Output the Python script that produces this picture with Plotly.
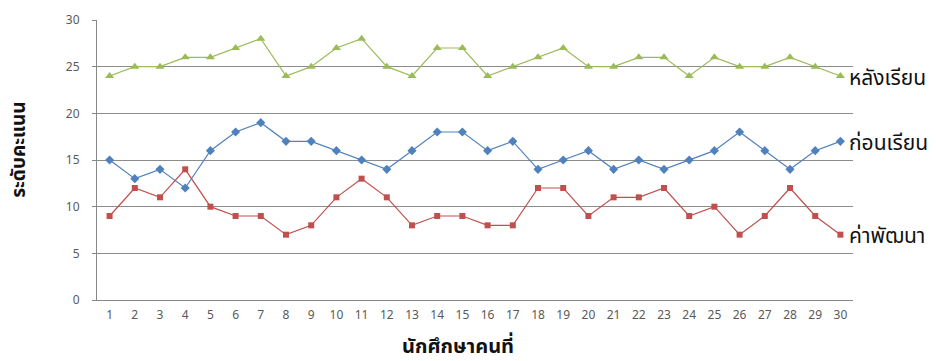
import plotly.graph_objects as go

students = list(range(1, 31))
after = [24, 25, 25, 26, 26, 27, 28, 24, 25, 27, 28, 25, 24, 27, 27, 24, 25, 26, 27, 25,
         25, 26, 26, 24, 26, 25, 25, 26, 25, 24]
before = [15, 13, 14, 12, 16, 18, 19, 17, 17, 16, 15, 14, 16, 18, 18, 16, 17, 14, 15, 16,
          14, 15, 14, 15, 16, 18, 16, 14, 16, 17]
gain = [9, 12, 11, 14, 10, 9, 9, 7, 8, 11, 13, 11, 8, 9, 9, 8, 8, 12, 12, 9,
        11, 11, 12, 9, 10, 7, 9, 12, 9, 7]
series_names = ["หลังเรียน", "ก่อนเรียน", "ค่าพัฒนา"]
y_ticks = [0, 5, 10, 15, 20, 25, 30]
x_title = "นักศึกษาคนที่"
y_title = "ระดับคะแนน"

thai = "Tahoma, Noto Sans Thai, sans-serif"
fig = go.Figure()
specs = [
    (after, series_names[0], "#9BBB59", "triangle-up", 8),
    (before, series_names[1], "#4F81BD", "diamond", 7),
    (gain, series_names[2], "#C0504D", "square", 6),
]
for vals, name, color, sym, size in specs:
    fig.add_trace(go.Scatter(
        x=students, y=vals, name=name, mode="lines+markers",
        line=dict(color=color, width=1.2),
        marker=dict(symbol=sym, size=size, color=color),
        showlegend=False,
    ))
    fig.add_annotation(
        x=students[-1], y=vals[-1], text=name, showarrow=False,
        xanchor="left", yanchor="middle", xshift=7, yshift=-2,
        font=dict(size=21, color="#111111", family=thai),
    )

fig.add_annotation(
    x=0.478, y=-0.228, xref="paper", yref="paper", text="<b>" + x_title + "</b>",
    showarrow=False, xanchor="center", yanchor="bottom",
    font=dict(size=20, color="#111111", family=thai),
)
fig.add_annotation(
    x=-0.102, y=0.536, xref="paper", yref="paper", text="<b>" + y_title + "</b>",
    showarrow=False, xanchor="center", yanchor="middle", textangle=-90,
    font=dict(size=19, color="#111111", family=thai),
)

fig.update_layout(
    width=936, height=361,
    margin=dict(l=97, r=83, t=20, b=61),
    plot_bgcolor="white", paper_bgcolor="white",
    font=dict(family=thai, color="#595959"),
    xaxis=dict(
        range=[0.5, 30.5], tickmode="array", tickvals=students,
        ticktext=[str(s) for s in students], automargin=False,
        showgrid=False, showline=True, linecolor="#888888", linewidth=1,
        ticks="", ticklabelstandoff=4, tickfont=dict(size=12, color="#595959"),
        zeroline=False,
    ),
    yaxis=dict(
        range=[0, 30], tickmode="array", tickvals=y_ticks, automargin=False,
        showgrid=True, gridcolor="#8c8c8c", gridwidth=1,
        showline=True, linecolor="#888888", linewidth=1,
        ticks="outside", ticklen=4, tickcolor="#888888", ticklabelstandoff=10,
        tickfont=dict(size=12, color="#595959"),
        zeroline=False,
    ),
)

fig.write_html("out.html")
